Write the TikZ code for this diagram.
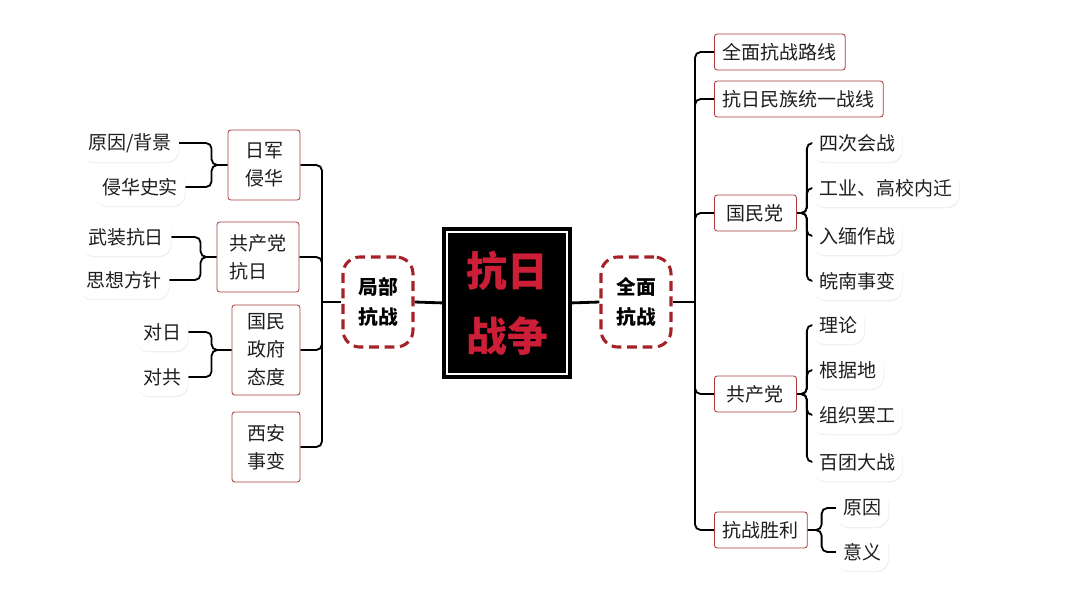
\documentclass[tikz,border=0pt]{standalone}
\usepackage{fontspec}
\setmainfont{Noto Sans CJK SC}
\usetikzlibrary{positioning,shadows,backgrounds}
\definecolor{fontgray}{RGB}{30, 30, 30}
\definecolor{boxred}{RGB}{170, 60, 60}
\definecolor{hubred}{RGB}{165, 35, 40}
\definecolor{titlered}{RGB}{205, 30, 55}

\begin{document}
\begin{tikzpicture}[x=0.025cm, y=-0.025cm, font=\fontsize{13.5}{20}\selectfont,
		root/.style={draw=black, line width=2.5pt, fill=black, minimum width=3.0cm, minimum height=3.55cm, double=white, double distance=1.5pt, text=titlered, align=center, font=\bfseries\fontsize{29}{46}\selectfont},
		hub/.style={draw=hubred, line width=2.2pt, dash pattern=on 7pt off 4pt, rounded corners=12pt, minimum width=1.75cm, minimum height=2.25cm, align=center, fill=white, font=\bfseries\fontsize{14}{22}\selectfont},
		branch/.style={draw=boxred, line width=0.6pt, rounded corners=2pt, fill=white, align=left, inner sep=6pt, minimum height=0.9cm, text=fontgray},
		leaf/.style={rounded corners=9pt, fill=white, drop shadow={opacity=0.12, shadow xshift=0.5pt, shadow yshift=-1pt}, inner sep=5pt, minimum height=0.95cm, text=fontgray},
		link/.style={line width=1.3pt, rounded corners=4pt},
		]
		\useasboundingbox (0,0) rectangle (1080,608);
		
		\node[root] (war) at (507,303) {抗日\\战争};
		\node[hub] (lhub) at (378,302) {局部\\抗战};
		\node[hub] (rhub) at (636,302) {全面\\抗战};
		
		% left side
		\node[branch, minimum width=1.8cm, minimum height=1.75cm] (b1) at (264,165) {日军\\侵华};
		\node[branch, minimum width=2.05cm, minimum height=1.75cm] (b2) at (258,257) {共产党\\抗日};
		\node[branch, minimum width=1.7cm, minimum height=2.25cm] (b3) at (266,350) {国民\\政府\\态度};
		\node[branch, minimum width=1.7cm, minimum height=1.75cm] (b4) at (266,447) {西安\\事变};
		
		\node[leaf] (l1) at (130,143) {原因/背景};
		\node[leaf] (l2) at (140,187) {侵华史实};
		\node[leaf] (l3) at (126,237) {武装抗日};
		\node[leaf] (l4) at (124,280) {思想方针};
		\node[leaf] (l5) at (162,332) {对日};
		\node[leaf] (l6) at (162,377) {对共};
		
		% right side
		\node[branch, anchor=west] (r1) at (714,52) {全面抗战路线};
		\node[branch, anchor=west] (r2) at (714,99) {抗日民族统一战线};
		\node[branch, anchor=west, minimum width=2.05cm] (r3) at (714,213) {国民党};
		\node[branch, anchor=west, minimum width=2.05cm] (r4) at (714,394) {共产党};
		\node[branch, anchor=west] (r5) at (714,530) {抗战胜利};
		
		\node[leaf, anchor=west] (k1) at (812,143) {四次会战};
		\node[leaf, anchor=west] (k2) at (812,188) {工业、高校内迁};
		\node[leaf, anchor=west] (k3) at (812,236) {入缅作战};
		\node[leaf, anchor=west] (k4) at (812,281) {皖南事变};
		\node[leaf, anchor=west] (k5) at (812,325) {理论};
		\node[leaf, anchor=west] (k6) at (812,370) {根据地};
		\node[leaf, anchor=west] (k7) at (812,415) {组织罢工};
		\node[leaf, anchor=west] (k8) at (812,462) {百团大战};
		\node[leaf, anchor=west] (k9) at (836,508) {原因};
		\node[leaf, anchor=west] (k10) at (836,552) {意义};
		
		\coordinate (lj) at (322,302);
		\coordinate (rj) at (695,302);
		
		\begin{scope}[on background layer]
		\draw [link, line width=2pt] (war.west) to (lhub.east);
		\draw [link, line width=2pt] (war.east) to (rhub.west);
		\draw [link, line width=2pt] (lhub.west) to (lj);
		\draw [link, line width=2pt] (rhub.east) to (rj);
		
		\draw [link] (lj) |- (b1.east);
		\draw [link] (lj) |- (b2.east);
		\draw [link] (lj) |- (b3.east);
		\draw [link] (lj) |- (b4.east);
		
		\draw [link] (rj) |- (r1.west);
		\draw [link] (rj) |- (r2.west);
		\draw [link] (rj) |- (r3.west);
		\draw [link] (rj) |- (r4.west);
		\draw [link] (rj) |- (r5.west);
		
		\draw [link] (b1.west) -- ++(-16,0) |- (l1.east);
		\draw [link] (b1.west) -- ++(-16,0) |- (l2.east);
		\draw [link] (b2.west) -- ++(-16,0) |- (l3.east);
		\draw [link] (b2.west) -- ++(-16,0) |- (l4.east);
		\draw [link] (b3.west) -- ++(-20,0) |- (l5.east);
		\draw [link] (b3.west) -- ++(-20,0) |- (l6.east);
		
		\draw [link] (r3.east) -- ++(10,0) |- (k1.west);
		\draw [link] (r3.east) -- ++(10,0) |- (k2.west);
		\draw [link] (r3.east) -- ++(10,0) |- (k3.west);
		\draw [link] (r3.east) -- ++(10,0) |- (k4.west);
		\draw [link] (r4.east) -- ++(10,0) |- (k5.west);
		\draw [link] (r4.east) -- ++(10,0) |- (k6.west);
		\draw [link] (r4.east) -- ++(10,0) |- (k7.west);
		\draw [link] (r4.east) -- ++(10,0) |- (k8.west);
		\draw [link] (r5.east) -- ++(14,0) |- (k9.west);
		\draw [link] (r5.east) -- ++(14,0) |- (k10.west);
		\end{scope}
		
\end{tikzpicture}
\end{document}
